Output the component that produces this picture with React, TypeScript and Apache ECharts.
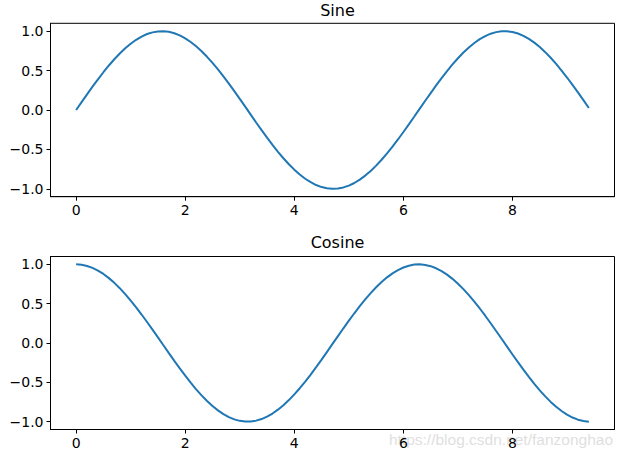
import React, { useEffect, useRef } from "react";
import * as echarts from "echarts";

const xValues = [
  0.0, 0.1, 0.2, 0.3, 0.4, 0.5, 0.6, 0.7, 0.8, 0.9,
  1.0, 1.1, 1.2, 1.3, 1.4, 1.5, 1.6, 1.7, 1.8, 1.9,
  2.0, 2.1, 2.2, 2.3, 2.4, 2.5, 2.6, 2.7, 2.8, 2.9,
  3.0, 3.1, 3.2, 3.3, 3.4, 3.5, 3.6, 3.7, 3.8, 3.9,
  4.0, 4.1, 4.2, 4.3, 4.4, 4.5, 4.6, 4.7, 4.8, 4.9,
  5.0, 5.1, 5.2, 5.3, 5.4, 5.5, 5.6, 5.7, 5.8, 5.9,
  6.0, 6.1, 6.2, 6.3, 6.4, 6.5, 6.6, 6.7, 6.8, 6.9,
  7.0, 7.1, 7.2, 7.3, 7.4, 7.5, 7.6, 7.7, 7.8, 7.9,
  8.0, 8.1, 8.2, 8.3, 8.4, 8.5, 8.6, 8.7, 8.8, 8.9,
  9.0, 9.1, 9.2, 9.3, 9.4,
];

const sineValues = [
  0.0, 0.1, 0.199, 0.296, 0.389, 0.479, 0.565, 0.644, 0.717, 0.783,
  0.841, 0.891, 0.932, 0.964, 0.985, 0.997, 1.0, 0.992, 0.974, 0.946,
  0.909, 0.863, 0.808, 0.746, 0.675, 0.598, 0.516, 0.427, 0.335, 0.239,
  0.141, 0.042, -0.058, -0.158, -0.256, -0.351, -0.443, -0.53, -0.612, -0.688,
  -0.757, -0.818, -0.872, -0.916, -0.952, -0.978, -0.994, -1.0, -0.996, -0.982,
  -0.959, -0.926, -0.883, -0.832, -0.773, -0.706, -0.631, -0.551, -0.465, -0.374,
  -0.279, -0.182, -0.083, 0.017, 0.117, 0.215, 0.312, 0.405, 0.494, 0.578,
  0.657, 0.729, 0.794, 0.85, 0.899, 0.938, 0.968, 0.988, 0.999, 0.999,
  0.989, 0.97, 0.941, 0.902, 0.855, 0.798, 0.734, 0.663, 0.585, 0.501,
  0.412, 0.319, 0.223, 0.125, 0.025,
];

const cosineValues = [
  1.0, 0.995, 0.98, 0.955, 0.921, 0.878, 0.825, 0.765, 0.697, 0.622,
  0.54, 0.454, 0.362, 0.267, 0.17, 0.071, -0.029, -0.129, -0.227, -0.323,
  -0.416, -0.505, -0.589, -0.666, -0.737, -0.801, -0.857, -0.904, -0.942, -0.971,
  -0.99, -0.999, -0.998, -0.987, -0.967, -0.936, -0.897, -0.848, -0.791, -0.726,
  -0.654, -0.575, -0.49, -0.401, -0.307, -0.211, -0.112, -0.012, 0.087, 0.187,
  0.284, 0.378, 0.469, 0.554, 0.635, 0.709, 0.776, 0.835, 0.886, 0.927,
  0.96, 0.983, 0.997, 1.0, 0.993, 0.977, 0.95, 0.914, 0.869, 0.816,
  0.754, 0.685, 0.608, 0.526, 0.439, 0.347, 0.251, 0.153, 0.054, -0.046,
  -0.146, -0.243, -0.339, -0.431, -0.519, -0.602, -0.679, -0.749, -0.811, -0.865,
  -0.911, -0.948, -0.975, -0.992, -1.0,
];

const titles = ["Sine", "Cosine"];
const xTicks = [0, 2, 4, 6, 8];
const yTicks = [-1.0, -0.5, 0.0, 0.5, 1.0];
const watermark = "https://blog.csdn.net/fanzonghao";

const FONT = "DejaVu Sans";
const LINE = "#1f77b4";

export default function App() {
  const ref = useRef<HTMLDivElement>(null);
  useEffect(() => {
    if (!ref.current) return;
    const chart = echarts.init(ref.current, undefined, { renderer: "svg" });
    const grids = [
      { left: 50.5, top: 23.3, width: 564, height: 173.4 },
      { left: 50.5, top: 256.5, width: 564, height: 173 },
    ];
    const fmtY = (v: number) => {
      const s = Math.abs(v).toFixed(1);
      return v < -1e-9 ? "\u2212" + s : s;
    };
    const xAxis = grids.map((_, i) => ({
      type: "value",
      gridIndex: i,
      min: -0.47,
      max: 9.87,
      splitLine: { show: false },
      axisLine: { show: true, onZero: false, lineStyle: { color: "#000", width: 1 } },
      axisTick: {
        show: true,
        length: 4,
        inside: false,
        customValues: xTicks,
        lineStyle: { color: "#000", width: 1 },
      },
      axisLabel: {
        customValues: xTicks,
        color: "#000",
        fontFamily: FONT,
        fontSize: 14,
        margin: 6,
        formatter: (v: number) => String(v),
      },
    }));
    const yAxis = grids.map((_, i) => ({
      type: "value",
      gridIndex: i,
      min: -1.1,
      max: 1.1,
      splitLine: { show: false },
      axisLine: { show: true, onZero: false, lineStyle: { color: "#000", width: 1 } },
      axisTick: {
        show: true,
        length: 4,
        customValues: yTicks,
        lineStyle: { color: "#000", width: 1 },
      },
      axisLabel: {
        customValues: yTicks,
        color: "#000",
        fontFamily: FONT,
        fontSize: 14,
        margin: 7,
        formatter: fmtY,
      },
    }));
    const seriesData = [sineValues, cosineValues];
    chart.setOption({
      animation: false,
      backgroundColor: "#fff",
      title: titles.map((t, i) => ({
        text: t,
        left: 332.5,
        textAlign: "center",
        top: i === 0 ? -3 : 229,
        textStyle: { fontFamily: FONT, fontSize: 16, fontWeight: "normal", color: "#000" },
      })),
      grid: grids.map((g) => ({ ...g, show: true, borderColor: "#000", borderWidth: 1, backgroundColor: "transparent" })),
      xAxis,
      yAxis,
      series: seriesData.map((vals, i) => ({
        type: "line",
        xAxisIndex: i,
        yAxisIndex: i,
        showSymbol: false,
        symbol: "none",
        smooth: false,
        lineStyle: { color: LINE, width: 2 },
        data: xValues.map((x, k) => [x, vals[k]]),
      })),
      graphic: [
        {
          type: "text",
          right: 9,
          top: 431,
          silent: true,
          style: {
            text: watermark,
            fill: "rgba(190,190,190,0.5)",
            font: "15.5px 'Liberation Sans', Arial, sans-serif",
          },
        },
      ],
    });
    return () => chart.dispose();
  }, []);
  return (
    <div
      ref={ref}
      style={{ position: "fixed", left: 0, top: 0, width: 622, height: 457 }}
    />
  );
}
